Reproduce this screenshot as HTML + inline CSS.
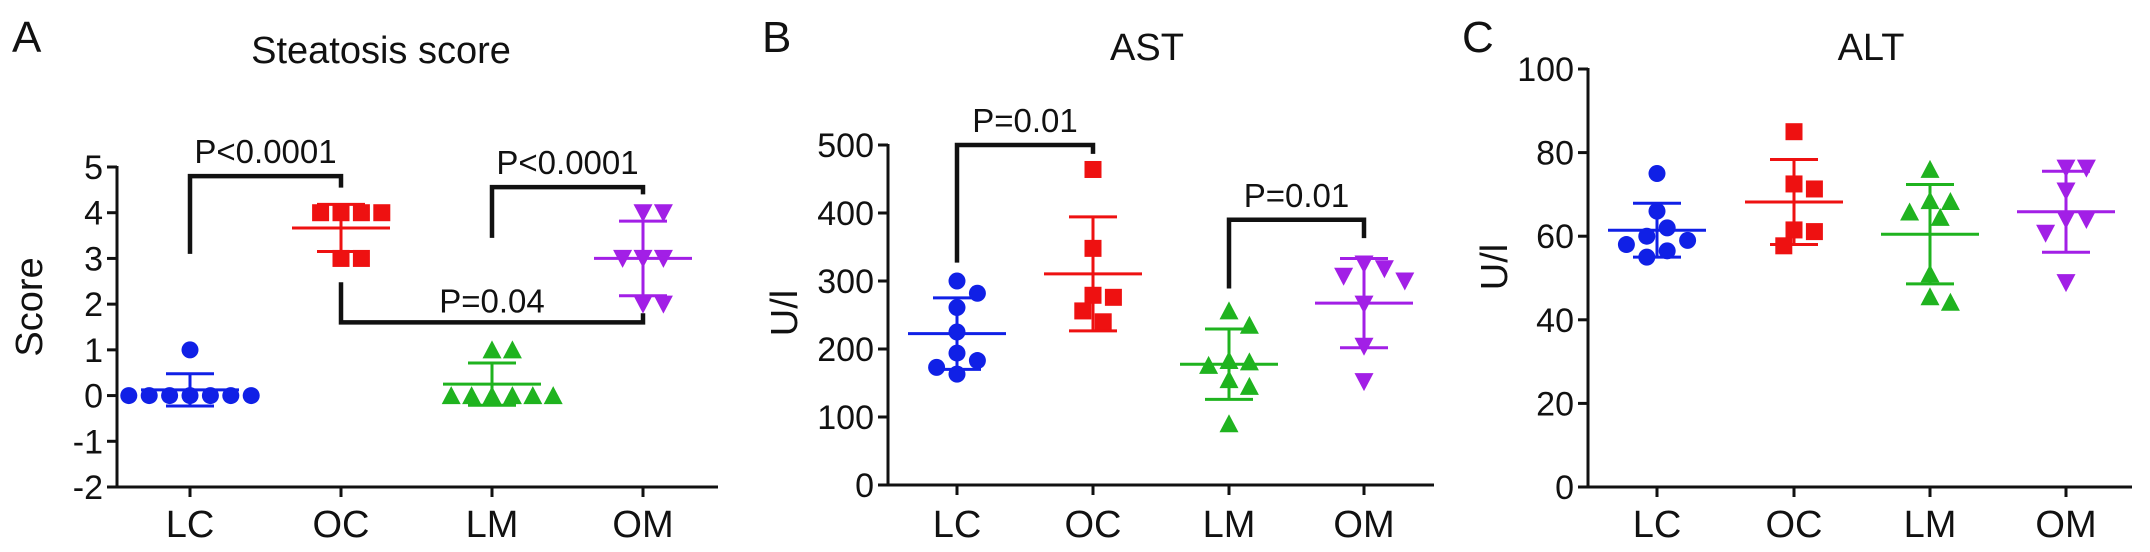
<!DOCTYPE html>
<html><head><meta charset="utf-8"><style>
html,body{margin:0;padding:0;background:#fff;}
svg{display:block;font-family:"Liberation Sans",Arial,sans-serif;}
</style></head><body>
<svg id="fig" width="2150" height="552" viewBox="0 0 2150 552" xmlns="http://www.w3.org/2000/svg">
<text x="12" y="52" font-size="44" fill="#111">A</text>
<text x="762" y="52" font-size="44" fill="#111">B</text>
<text x="1462" y="52" font-size="44" fill="#111">C</text>
</svg>
<script>
const categories = ["LC","OC","LM","OM"];
const colors = ["#1020e6","#ee1111","#1fb31f","#a21fe6"];
const shapes = ["circle","square","tri-up","tri-down"];
// Panel A: steatosis score
const scoreLC = [1,0,0,0,0,0,0,0];
const scoreOC = [4,4,4,4,3,3];
const scoreLM = [1,1,0,0,0,0,0,0];
const scoreOM = [4,4,3,3,3,2,2];
const scoreTicks = [-2,-1,0,1,2,3,4,5];
// Panel B: AST
const astLC = [300,282,261,225,194,183,173,163];
const astOC = [464,348,279,276,256,240];
const astLM = [256,235,183,181,176,155,145,90];
const astOM = [325,318,307,300,266,204,152];
const astTicks = [0,100,200,300,400,500];
// Panel C: ALT
const altLC = [75,66,62,60,59,58,56.5,55];
const altOC = [85,72.5,71.3,61.5,61.1,57.7];
const altLM = [76,68.3,68.5,64.5,65.8,51,44.2,45.5];
const altOM = [76.3,76.3,70.8,64,64,60.7,48.9];
const altTicks = [0,20,40,60,80,100];
// brackets: [cat1, cat2, barValue, leg1EndValue, leg2EndValue, label]
const bracketsA = [[0,1,4.8,3.1,4.55,"P<0.0001"],[2,3,4.56,3.45,4.4,"P<0.0001"],[1,3,1.6,2.48,1.8,"P=0.04"]];
const bracketsB = [[0,1,500,327,487,"P=0.01"],[2,3,390,289,363,"P=0.01"]];
const bracketsC = [];

const NS="http://www.w3.org/2000/svg";
const svg=document.getElementById('fig');
function mk(tag,attrs,parent){const e=document.createElementNS(NS,tag);for(const k in attrs)e.setAttribute(k,attrs[k]);(parent||svg).appendChild(e);return e;}
function mean(a){return a.reduce((s,v)=>s+v,0)/a.length;}
function sd(a){const m=mean(a);return Math.sqrt(a.reduce((s,v)=>s+(v-m)*(v-m),0)/(a.length-1));}

function panel(cfg){
  const g=mk('g',{});
  
  
  const y=v=>cfg.y0+(v-cfg.vmin)/(cfg.vmax-cfg.vmin)*(cfg.y1-cfg.y0);
  const x=i=>cfg.cx[i];
  const t=mk('text',{x:cfg.titleX,y:cfg.titleY,'font-size':38,'text-anchor':'middle',fill:'#111'},g);
  t.textContent=cfg.title;
  
  
  const yl=mk('text',{x:0,y:0,'font-size':38,'text-anchor':'middle',fill:'#111',transform:`translate(${cfg.ylabX},${cfg.ylabY}) rotate(-90)`},g);
  yl.textContent=cfg.ylab;
  
  
  const ya=mk('line',{x1:cfg.ax,x2:cfg.ax,y1:y(cfg.vmax)-1,y2:y(cfg.vmin)+1.5,stroke:'#111','stroke-width':3},g);
  
  
  const xa=mk('line',{x1:cfg.ax-10,x2:cfg.axRight,y1:y(cfg.vmin),y2:y(cfg.vmin),stroke:'#111','stroke-width':3},g);
  
  
  cfg.ticks.forEach(v=>{
    const l=mk('line',{x1:cfg.ax-10,x2:cfg.ax,y1:y(v),y2:y(v),stroke:'#111','stroke-width':3},g);
    
    
    const tt=mk('text',{x:cfg.ax-14,y:y(v)+12,'font-size':34,'text-anchor':'end',fill:'#111'},g);
    tt.textContent=String(v);
    
    
  });
  categories.forEach((c,i)=>{
    const l=mk('line',{x1:x(i),x2:x(i),y1:y(cfg.vmin),y2:y(cfg.vmin)+10,stroke:'#111','stroke-width':3},g);
    
    
    const tt=mk('text',{x:x(i),y:537,'font-size':38,'text-anchor':'middle',fill:'#111'},g);
    tt.textContent=c;
    
    
  });
  cfg.brackets.forEach(b=>{
    const x1=x(b[0]),x2=x(b[1]),yb=y(b[2]);
    const p=mk('path',{d:`M${x1},${y(b[3])} L${x1},${yb} L${x2},${yb} L${x2},${y(b[4])}`,fill:'none',stroke:'#111','stroke-width':4.5},g);
    
    
    const up=b[3]<b[2];
    const tt=mk('text',{x:(x1+x2)/2,y:up?yb-13:yb-10,'font-size':33,'text-anchor':'middle',fill:'#111'},g);
    tt.textContent=b[5];
    
    
  });
  cfg.series.forEach((vals,i)=>{
    const sg=mk('g',{},g);
    
    
    const col=colors[i],cx=x(i),m=mean(vals),s=sd(vals);
    const ms=17;
    const placed=[];
    vals.map((v,k)=>({v,k})).sort((a,b)=>b.v-a.v).forEach(o=>{
      const py=y(o.v);
      const offs=[0];for(let n=1;n<12;n++){offs.push(n*ms*0.6,-n*ms*0.6);}
      let px=cx;
      for(const off of offs){const tx=cx+off;if(placed.every(p=>Math.hypot(p[0]-tx,p[1]-py)>=ms*1.05)){px=tx;break;}}
      placed.push([px,py]);
      const h=ms/2;let e;
      if(shapes[i]==='circle') e=mk('circle',{cx:px,cy:py,r:h,fill:col},sg);
      else if(shapes[i]==='square') e=mk('rect',{x:px-h,y:py-h,width:ms,height:ms,fill:col},sg);
      else if(shapes[i]==='tri-up') e=mk('polygon',{points:`${px},${py-h-1} ${px+h+1},${py+h} ${px-h-1},${py+h}`,fill:col},sg);
      else e=mk('polygon',{points:`${px-h-1},${py-h} ${px+h+1},${py-h} ${px},${py+h+1}`,fill:col},sg);
      
      
    });
    const ml=mk('line',{x1:cx-49,x2:cx+49,y1:y(m),y2:y(m),stroke:col,'stroke-width':3},sg);
    
    
    const el=mk('path',{d:`M${cx},${y(m+s)} L${cx},${y(m-s)} M${cx-24},${y(m+s)} L${cx+24},${y(m+s)} M${cx-24},${y(m-s)} L${cx+24},${y(m-s)}`,stroke:col,'stroke-width':3,fill:'none'},sg);
    
    
  });
}

panel({name:'steatosis-panel',title:'Steatosis score',titleX:381,titleY:63,ylab:'Score',ylabX:42,ylabY:307,
  ax:117,axRight:718,cx:[190,341,492,643],vmin:-2,vmax:5,y0:487,y1:167,ticks:scoreTicks,
  series:[scoreLC,scoreOC,scoreLM,scoreOM],brackets:bracketsA});
panel({name:'ast-panel',title:'AST',titleX:1147,titleY:60,ylab:'U/l',ylabX:797,ylabY:313,
  ax:888,axRight:1434,cx:[957,1093,1229,1364],vmin:0,vmax:500,y0:485,y1:145,ticks:astTicks,
  series:[astLC,astOC,astLM,astOM],brackets:bracketsB});
panel({name:'alt-panel',title:'ALT',titleX:1871,titleY:60,ylab:'U/l',ylabX:1507,ylabY:267,
  ax:1588,axRight:2132,cx:[1657,1794,1930,2066],vmin:0,vmax:100,y0:487,y1:69,ticks:altTicks,
  series:[altLC,altOC,altLM,altOM],brackets:bracketsC});
</script>
</body></html>
